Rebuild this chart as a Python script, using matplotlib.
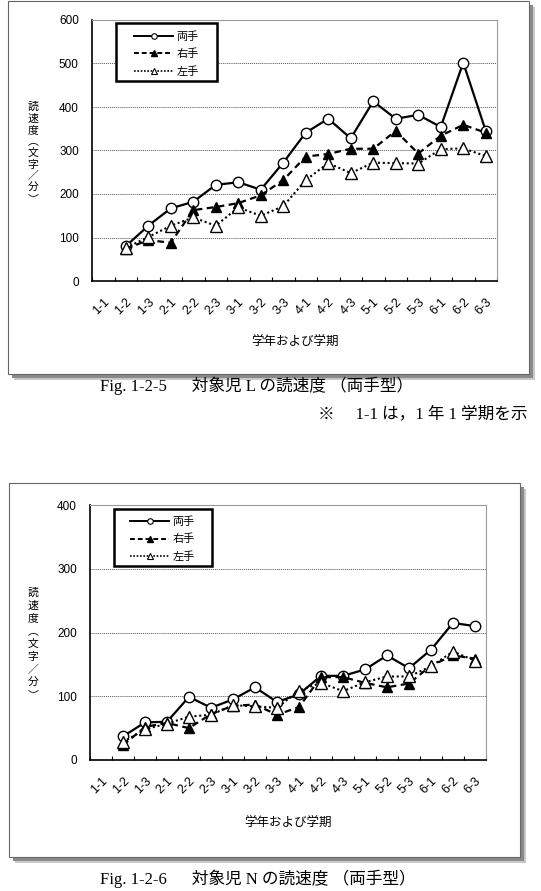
import numpy as np
import matplotlib
matplotlib.use("Agg")
import matplotlib.pyplot as plt
from matplotlib.patches import Rectangle
from matplotlib.lines import Line2D

plt.rcParams['font.family'] = ['Liberation Sans', 'Noto Sans CJK JP']

nan = np.nan

# 学年および学期 (1-1 は 1 年 1 学期)
terms = ['1-1', '1-2', '1-3', '2-1', '2-2', '2-3', '3-1', '3-2', '3-3',
         '4-1', '4-2', '4-3', '5-1', '5-2', '5-3', '6-1', '6-2', '6-3']

# 対象児 L
L_both = [nan, 80, 127, 167, 182, 221, 227, 210, 272, 341, 373, 328, 413, 373, 382, 354, 502, 345]
L_right = [nan, 74, 94, 88, 163, 170, 179, 197, 232, 286, 292, 304, 304, 345, 293, 334, 359, 341]
L_left = [nan, 76, 101, 127, 146, 127, 169, 150, 172, 232, 271, 248, 272, 271, 270, 303, 305, 287]

# 対象児 N
N_both = [nan, 37, 59, 60, 99, 82, 95, 114, 91, 103, 132, 132, 142, 164, 144, 173, 215, 210]
N_right = [nan, 23, 52, 58, 50, 72, 85, 87, 71, 83, 130, 130, 121, 114, 120, 148, 164, 159]
N_left = [nan, 28, 48, 57, 68, 71, 86, 84, 82, 109, 121, 108, 122, 131, 131, 147, 170, 156]

series_names = ['両手', '右手', '左手']

W, H = 541, 891
fig = plt.figure(figsize=(W / 100, H / 100), dpi=100)


def fr(x0, y0, x1, y1):
    # pixel box (top-left origin) -> figure fraction [left, bottom, width, height]
    return [x0 / W, 1 - y1 / H, (x1 - x0) / W, (y1 - y0) / H]


def panel(frame, axbox, vals, ymax, leg_box, leg_anchor, ylab_y, ylab_ls, xlab_y):
    # frame with drop shadow
    l, b, w, h = fr(*frame)
    for off, c in [(6, '#c8c8c8'), (4, '#8a8a8a')]:
        fig.add_artist(Rectangle((l + off / W, b - off / H), w, h, transform=fig.transFigure,
                                 facecolor=c, edgecolor='none', zorder=0))
    fig.add_artist(Rectangle((l, b), w, h, transform=fig.transFigure,
                             facecolor='white', edgecolor='#666666', lw=0.8, zorder=1))

    ax = fig.add_axes(fr(*axbox))
    ax.set_zorder(2)
    ax.patch.set_alpha(0)
    x = np.arange(len(terms))
    both, right, left = vals
    ax.plot(x, both, color='black', lw=1.6, marker='o', ms=7.5, mfc='white', mec='black',
            mew=1.0, zorder=3)
    ax.plot(x, right, color='black', lw=1.6, ls=(0, (3, 2)), marker='^', ms=7.5, mfc='black',
            mec='black', zorder=3)
    ax.plot(x, left, color='black', lw=1.5, ls=(0, (1, 1.3)), marker='^', ms=8, mfc='white',
            mec='black', mew=1.0, zorder=4)

    ax.set_xlim(-0.5, len(terms) - 0.5)
    ax.set_ylim(0, ymax)
    ax.set_yticks(np.arange(0, ymax + 1, 100))
    ax.tick_params(axis='y', length=0, pad=9.5, labelsize=8.5)
    ax.set_xticks(x)
    ax.set_xticklabels(terms, rotation=45, ha='right', va='top', rotation_mode='anchor')
    ax.tick_params(axis='x', which='major', length=0, pad=11, labelsize=9)
    ax.set_xticks(np.arange(-0.5, len(terms)), minor=True)
    ax.tick_params(axis='x', which='minor', direction='in', length=2.8, width=0.8)
    for yv in range(100, ymax + 1, 100):
        ax.axhline(yv, color='#555555', lw=0.7, ls=(0, (1, 1)), zorder=1)
    for s in ['left', 'bottom']:
        ax.spines[s].set_linewidth(1.2)
    for s in ['top', 'right']:
        ax.spines[s].set_color('#9a9a9a')
        ax.spines[s].set_linewidth(0.8)

    ax.text(0.5, xlab_y, '学年および学期', transform=ax.transAxes, ha='center', va='center',
            fontsize=9, family=['Noto Sans CJK JP'])

    # vertical y label
    ylab = '\n'.join(['読', '速', '度', '︵', '文', '字', '／', '分', '︶'])
    fig.text(33 / W, 1 - ylab_y / H, ylab, ha='center', va='center', fontsize=7.8,
             linespacing=ylab_ls, family=['Noto Sans CJK JP'])

    # legend
    bx0, by0, bx1, by1 = leg_box
    ax.add_patch(Rectangle((bx0, by0), bx1 - bx0, by1 - by0, transform=ax.transAxes,
                           facecolor='white', edgecolor='black', lw=1.8, zorder=5, clip_on=False))
    handles = [
        Line2D([], [], color='black', lw=1.4, marker='o', ms=4, mfc='white', mec='black', mew=0.8),
        Line2D([], [], color='black', lw=1.4, ls=(0, (2.5, 1.5)), marker='^', ms=4, mfc='black'),
        Line2D([], [], color='black', lw=1.2, ls=(0, (1, 1)), marker='^', ms=4, mfc='white',
               mec='black', mew=0.8),
    ]
    leg = ax.legend(handles, series_names, loc='upper left', bbox_to_anchor=leg_anchor,
                    frameon=False, borderpad=0, borderaxespad=0, handlelength=3.5,
                    handletextpad=0.3, labelspacing=0.62,
                    prop={'family': ['Noto Sans CJK JP'], 'size': 8})
    leg.set_zorder(6)
    return ax


panel((8, 1, 529, 374), (92, 20, 497, 281), (L_both, L_right, L_left), 600,
      (0.0593, 0.766, 0.3086, 0.9885), (0.104, 0.958), 153, 1.18, -0.236)
panel((9, 483, 520, 857), (90, 505, 486, 760), (N_both, N_right, N_left), 400,
      (0.0606, 0.761, 0.308, 0.984), (0.1015, 0.956), 644, 1.34, -0.25)

cap_family = ['Liberation Serif', 'Noto Sans CJK JP']
fig.text(100 / W, 1 - 386 / H, 'Fig. 1-2-5\u3000  対象児 L の読速度 （両手型）', ha='left',
         va='center', fontsize=12, family=cap_family)
fig.text(318 / W, 1 - 414 / H, '※\u3000 1-1 は，1 年 1 学期を示', ha='left',
         va='center', fontsize=12, family=cap_family)
fig.text(100 / W, 1 - 879 / H, 'Fig. 1-2-6\u3000  対象児 N の読速度 （両手型）', ha='left',
         va='center', fontsize=12, family=cap_family)

fig.savefig('out.png', dpi=100)
